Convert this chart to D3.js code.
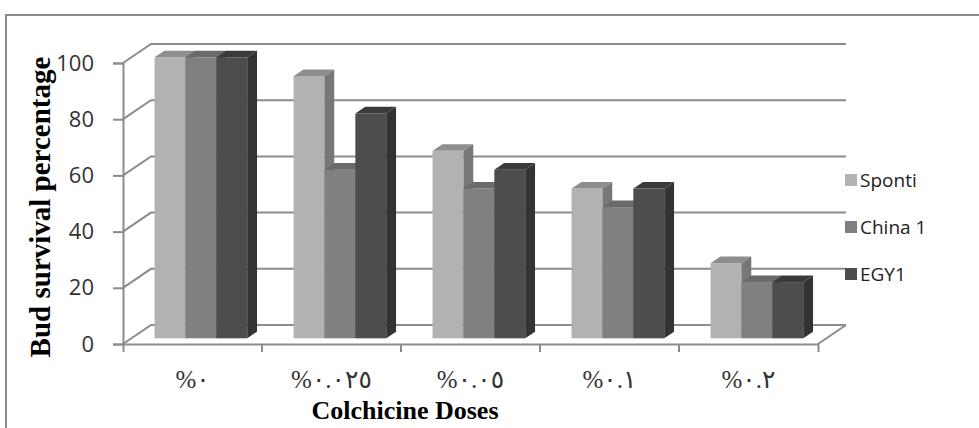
<!DOCTYPE html>
<html>
<head>
<meta charset="utf-8">
<script src="https://cdn.jsdelivr.net/npm/d3@7"></script>
<style>
  html, body { margin: 0; padding: 0; background: #fff; }
  svg { display: block; }
</style>
</head>
<body>
<svg id="chart" width="979" height="428"></svg>
<script>
// ---- data ----
const categories = ["%٠", "%٠.٠٢٥", "%٠.٠٥", "%٠.١", "%٠.٢"];
const seriesNames = ["Sponti", "China 1", "EGY1"];
const sponti = [100, 93.3, 66.7, 53.3, 26.7];
const china1 = [100, 60, 53.3, 46.7, 20];
const egy1 = [100, 80, 60, 53.3, 20];
const yTicks = [0, 20, 40, 60, 80, 100];
const yTitle = "Bud survival percentage";
const xTitle = "Colchicine Doses";

const seriesValues = [sponti, china1, egy1];
const frontColors = ["#b2b2b2", "#808080", "#4d4d4d"];
const topColors = ["#8e8e8e", "#6a6a6a", "#3a3a3a"];
const sideColors = ["#777777", "#5a5a5a", "#333333"];

const svg = d3.select("#chart");
const W = 979, H = 428;

// outer frame
svg.append("rect").attr("x", 6).attr("y", 15).attr("width", W + 20).attr("height", H + 20)
  .attr("fill", "none").attr("stroke", "#8a8a8a").attr("stroke-width", 2);

// scales
const x = d3.scaleBand().domain(categories).range([123, 818]).paddingInner(0).paddingOuter(0);
const xs = d3.scaleBand().domain(seriesNames).range([0, x.bandwidth()]).paddingInner(0).paddingOuter(0.75);
const y = d3.scaleLinear().domain([0, 100]).range([344, 63]);

// depth projection
const DX = 28, DY = -19;
const P = (px, py, d) => [px + d * DX, py + d * DY];
const dFront = 0.3, dBack = 0.65;

const gridColor = "#8c8c8c";
const g = svg.append("g");

// walls / gridlines (left wall diagonals + back wall horizontals)
yTicks.forEach(v => {
  const a = P(x.range()[0], y(v), 0);
  const b = P(x.range()[0], y(v), 1);
  const c = P(x.range()[1], y(v), 1);
  g.append("path")
    .attr("d", `M${a[0]},${a[1]}L${b[0]},${b[1]}L${c[0]},${c[1]}`)
    .attr("fill", "none").attr("stroke", gridColor).attr("stroke-width", 2);
});
// floor right edge
{
  const a = P(x.range()[1], y(0), 0), b = P(x.range()[1], y(0), 1);
  g.append("line").attr("x1", a[0]).attr("y1", a[1]).attr("x2", b[0]).attr("y2", b[1])
    .attr("stroke", gridColor).attr("stroke-width", 2);
}

// bars
const bars = svg.append("g");
categories.forEach((cat, ci) => {
  seriesNames.forEach((s, si) => {
    const v = seriesValues[si][ci];
    const x0 = x(cat) + xs(s), x1 = x0 + xs.bandwidth();
    const f0 = P(x0, y(0), dFront), f1 = P(x1, y(v), dFront);
    // front
    bars.append("rect").attr("x", f0[0]).attr("y", f1[1])
      .attr("width", f1[0] - f0[0]).attr("height", f0[1] - f1[1])
      .attr("fill", frontColors[si]);
    // top
    const t1 = P(x0, y(v), dFront), t2 = P(x1, y(v), dFront), t3 = P(x1, y(v), dBack), t4 = P(x0, y(v), dBack);
    bars.append("path").attr("d", `M${t1}L${t2}L${t3}L${t4}Z`).attr("fill", topColors[si]);
    // side
    const s1 = P(x1, y(v), dFront), s2 = P(x1, y(v), dBack), s3 = P(x1, y(0), dBack), s4 = P(x1, y(0), dFront);
    bars.append("path").attr("d", `M${s1}L${s2}L${s3}L${s4}Z`).attr("fill", sideColors[si]);
  });
});

// y axis
const yAxis = svg.append("g").attr("transform", "translate(123,0)")
  .call(d3.axisLeft(y).tickValues(yTicks).tickSize(10).tickPadding(19));
yAxis.select(".domain").attr("stroke", gridColor).attr("stroke-width", 2);
yAxis.selectAll(".tick line").attr("stroke", gridColor).attr("stroke-width", 2);
yAxis.selectAll(".tick text").attr("font-family", "'Open Sans', sans-serif")
  .attr("font-size", 22).attr("fill", "#333");

// x axis
const xAxis = svg.append("g").attr("transform", `translate(0,${y(0)})`)
  .call(d3.axisBottom(x).tickSize(0).tickSizeOuter(8).tickPadding(26));
xAxis.select(".domain").attr("stroke", gridColor).attr("stroke-width", 2);
xAxis.selectAll(".tick text").attr("font-family", "'Liberation Serif', 'DejaVu Sans', serif")
  .attr("font-size", 25).attr("fill", "#333").attr("direction", "ltr");
categories.slice(1).forEach(cat => {
  xAxis.append("line").attr("x1", x(cat)).attr("x2", x(cat)).attr("y1", 0).attr("y2", 8)
    .attr("stroke", gridColor).attr("stroke-width", 2);
});

// titles
svg.append("text").attr("transform", "translate(50,207) rotate(-90)")
  .attr("text-anchor", "middle").attr("font-family", "'Liberation Serif', serif")
  .attr("font-weight", "bold").attr("font-size", 29).attr("fill", "#000").text(yTitle);
svg.append("text").attr("x", 405).attr("y", 419)
  .attr("text-anchor", "middle").attr("font-family", "'Liberation Serif', serif")
  .attr("font-weight", "bold").attr("font-size", 26).attr("fill", "#000").text(xTitle);

// legend
const legend = svg.append("g");
seriesNames.forEach((s, i) => {
  const cy = 180 + i * 47;
  legend.append("rect").attr("x", 845).attr("y", cy - 6).attr("width", 12).attr("height", 12)
    .attr("fill", frontColors[i]);
  legend.append("text").attr("x", 860).attr("y", cy).attr("dy", "0.35em")
    .attr("font-family", "'Open Sans', sans-serif").attr("font-size", 19).attr("fill", "#222").text(s);
});
</script>
</body>
</html>
